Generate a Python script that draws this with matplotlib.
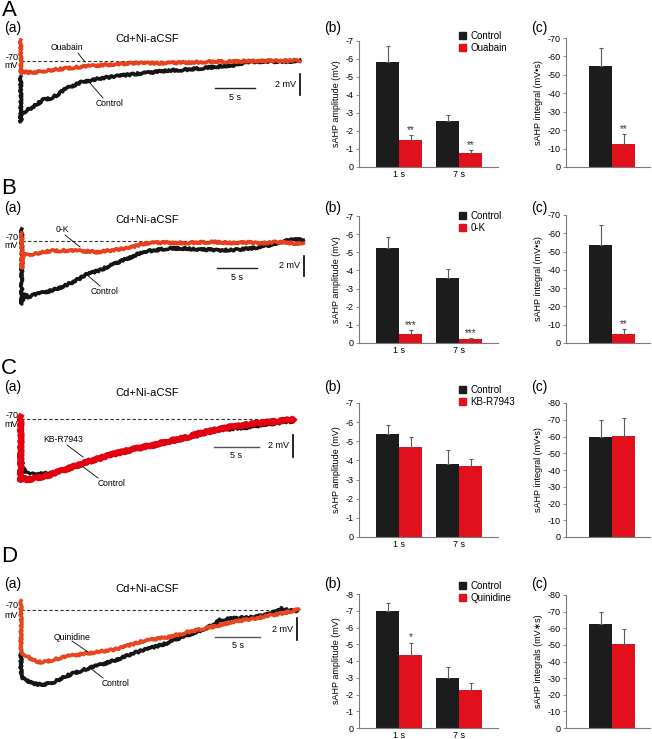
import numpy as np
import matplotlib
matplotlib.use("Agg")
import matplotlib.pyplot as plt
from matplotlib.lines import Line2D
from matplotlib.patches import Patch
from matplotlib.transforms import Affine2D

plt.rcParams['font.family'] = ['Liberation Sans', 'DejaVu Sans']
plt.rcParams['axes.unicode_minus'] = False

# ---- bar data (rows A-D) ----
drugs = ["Ouabain", "0-K", "KB-R7943", "Quinidine"]
time_labels = ["1 s", "7 s"]
amp_ctrl = [[-5.85, -2.55], [-5.25, -3.6], [-5.4, -3.8], [-7.0, -3.0]]
amp_ctrl_err = [[0.85, 0.35], [0.6, 0.5], [0.45, 0.75], [0.45, 0.65]]
amp_drug = [[-1.5, -0.8], [-0.5, -0.2], [-4.7, -3.7], [-4.35, -2.25]]
amp_drug_err = [[0.3, 0.12], [0.22, 0.08], [0.5, 0.4], [0.75, 0.45]]
amp_stars = [["**", "**"], ["***", "***"], ["", ""], ["*", ""]]
amp_ymin = [-7, -7, -7, -8]
int_ctrl = [-55, -53.5, -60, -62.5]
int_ctrl_err = [9.5, 11, 10, 7]
int_drug = [-12.5, -5, -60.5, -50.5]
int_drug_err = [5.5, 2.5, 10.5, 9]
int_stars = ["**", "**", "", ""]
int_ymin = [-70, -70, -80, -80]
int_ylabels = ["sAHP integral (mV\u2022s)", "sAHP integral (mV\u2022s)",
               "sAHP integral (mV\u2022s)", "sAHP integrals (mV\u2217s)"]

# ---- traces (time in s, membrane potential in mV) ----
a_t_ctrl = [0, 0, 0.12, 0.75, 1.6, 2.8, 3.7, 4.5, 5.75, 7.0, 7.8, 9.1, 9.9, 12.0, 14.1,
            16.2, 18.25, 20.3, 22.4, 24.5, 26.6, 28.7, 30.75, 32.8, 34.9]
a_v_ctrl = [-71.5, -75.8, -75.0, -74.7, -74.35, -73.7, -73.55, -73.25, -72.6, -72.2, -71.95,
            -71.8, -71.65, -71.45, -71.25, -71.1, -70.9, -70.85, -70.7, -70.55, -70.4,
            -70.05, -70.05, -70.05, -70.0]
a_t_drug = [0, 0, 0.3, 1.6, 3.0, 4.5, 5.75, 7.5, 9.9, 12.0, 14.1, 16.2, 18.25, 20.3,
            22.4, 24.5, 26.6, 28.7, 30.75, 32.8, 34.9]
a_v_drug = [-68.0, -71.2, -71.05, -71.1, -70.95, -70.8, -70.7, -70.55, -70.4, -70.3, -70.2,
            -70.2, -70.2, -70.15, -70.1, -70.05, -70.05, -70.0, -70.0, -69.95, -69.95]

b_t_ctrl = [0, 0, 0.3, 0.83, 1.46, 2.7, 3.96, 5.63, 6.88, 8.13, 9.8, 11.0, 12.3, 13.96,
            15.2, 16.5, 18.1, 20.2, 22.3, 24.4, 26.5, 28.5, 30.6, 32.7, 34.0, 35.2]
b_v_ctrl = [-68.8, -76.3, -75.3, -75.6, -75.4, -75.15, -74.9, -74.4, -73.9, -73.35, -72.9,
            -72.5, -72.05, -71.5, -71.05, -70.95, -70.75, -70.75, -70.85, -70.9, -70.9,
            -70.75, -70.5, -70.05, -69.85, -69.9]
b_t_drug = [0, 0, 0.2, 1.5, 3.5, 5.5, 7.5, 9.5, 11.5, 13.5, 15.0, 16.0, 18.0, 20.0, 22.0,
            24.0, 26.0, 28.0, 30.0, 32.0, 35.2]
b_v_drug = [-69.2, -72.7, -71.4, -71.3, -71.0, -70.95, -71.0, -71.1, -70.9, -70.7, -70.3,
            -70.2, -70.15, -70.2, -70.15, -70.1, -70.2, -70.15, -70.2, -70.1, -70.3]

c_t_ctrl = [0, 0, 0.11, 0.5, 1.0, 1.8, 3.26, 5.1, 8.8, 12.5, 16.2, 19.9, 21.8, 23.6,
            25.5, 27.3, 30.3]
c_v_ctrl = [-69.75, -75.75, -73.8, -74.9, -75.05, -75.05, -74.95, -74.6, -73.6, -72.8,
            -72.2, -71.5, -71.05, -70.9, -70.75, -70.5, -70.2]
c_t_drug = [0, 0, 0.37, 0.67, 1.41, 3.26, 5.11, 6.96, 8.81, 10.67, 12.52, 14.37, 16.22,
            18.07, 19.93, 21.78, 23.63, 25.48, 27.33, 29.19, 30.3]
c_v_drug = [-69.75, -75.6, -75.45, -75.6, -75.5, -75.14, -74.6, -74.06, -73.6, -73.14,
            -72.77, -72.46, -72.06, -71.75, -71.3, -70.95, -70.68, -70.43, -70.28, -70.12,
            -70.0]

d_t_ctrl = [0, 0, 0.44, 1.37, 2.48, 3.59, 5.07, 6.93, 8.78, 10.63, 12.48, 14.33, 16.19,
            18.04, 19.89, 21.37, 22.1, 23.6, 25.44, 27.3, 28.96, 29.9, 30.8]
d_v_ctrl = [-74.0, -76.2, -76.46, -76.83, -76.92, -76.7, -76.1, -75.54, -75.08, -74.6,
            -74.0, -73.54, -73.08, -72.46, -71.9, -71.38, -70.92, -70.77, -70.68, -70.46,
            -69.85, -70.06, -70.06]
d_t_drug = [0, 0, 0.44, 1.0, 1.74, 2.48, 3.59, 5.07, 6.93, 8.78, 10.63, 12.48, 13.2,
            14.33, 16.19, 18.04, 19.89, 21.74, 23.6, 25.44, 27.3, 29.15, 30.8]
d_v_drug = [-69.14, -74.0, -74.15, -74.46, -74.77, -74.86, -74.6, -74.3, -74.06, -73.85,
            -73.63, -73.14, -72.95, -72.77, -72.52, -72.15, -71.78, -71.48, -71.08, -70.86,
            -70.55, -70.3, -69.94]

traces = [(a_t_ctrl, a_v_ctrl, a_t_drug, a_v_drug),
          (b_t_ctrl, b_v_ctrl, b_t_drug, b_v_drug),
          (c_t_ctrl, c_v_ctrl, c_t_drug, c_v_drug),
          (d_t_ctrl, d_v_ctrl, d_t_drug, d_v_drug)]

W, H = 652, 739
fig = plt.figure(figsize=(W / 100, H / 100), dpi=100)
px = Affine2D().scale(1 / W, -1 / H).translate(0, 1) + fig.transFigure


def rect(x0, y0, x1, y1):
    return [x0 / W, 1 - y1 / H, (x1 - x0) / W, (y1 - y0) / H]


def ftext(x, y, s, **kw):
    kw.setdefault("ha", "center")
    kw.setdefault("va", "center")
    fig.text(x, y, s, transform=px, **kw)


def fline(xs, ys, **kw):
    kw.setdefault("color", "black")
    kw.setdefault("lw", 0.6)
    fig.add_artist(Line2D(xs, ys, transform=px, **kw))


letters = ["A", "B", "C", "D"]
letter_y = [10, 189, 369, 557]
sub_y = [28, 208, 387, 584]
title_y = [39, 220, 393, 589]
# trace calibration: x of t=0, px per s, y of -70 mV, px per mV, drug colour, widths
cal = [(20.7, 8.0, 61, 10.5, "#e8401c", 2.6, 2.6),
       (21.7, 8.0, 241, 10.0, "#e8401c", 2.6, 2.6),
       (20.7, 9.0, 419.3, 10.8, "#e3000f", 2.2, 4.2),
       (21.0, 9.0, 610, 10.8, "#e8461c", 2.6, 2.6)]
hbar = [(215, 255, 88), (217, 257, 268), (214, 259, 446.7), (215, 260, 637)]
vbar = [(300, 74, 95), (304, 256, 276), (292.7, 435, 457), (296.7, 618, 640)]
drug_lab = [((67, 47), (78, 53, 85, 62)), ((62, 230), (65, 235, 80, 247)),
            ((63, 440), (67, 445, 83, 457)), ((72, 637), (72, 641, 88, 652))]
ctrl_lab = [((110, 103), (90, 83, 103, 98)), ((105, 291), (86, 274, 100, 286)),
            ((112, 484), (82, 466, 98, 478)), ((116, 683), (90, 668, 103, 678))]
amp_rect = [(359, 41, 498, 167), (359, 216, 498, 343), (359, 403, 498, 537), (359, 594, 498, 728)]
int_rect = [(566, 38, 650, 167), (566, 215, 650, 343), (566, 403, 650, 537), (566, 595, 650, 728)]
leg_top = [31, 211, 385, 581]

black = "#1c1c1c"
red_bar = "#e2101c"
err_col = "#5a5a5a"
spine_col = "#7a7a7a"

for r in range(4):
    t0, sx, y70, sy, dcol, lwc, lwd = cal[r]
    tc, vc, td, vd = traces[r]
    # trace axes
    x0, x1 = 8, 325
    y0, y1 = y70 - 30, y70 + 80
    ax = fig.add_axes(rect(x0, y0, x1, y1))
    ax.set_xlim((x0 - t0) / sx, (x1 - t0) / sx)
    ax.set_ylim(-70 - (y1 - y70) / sy, -70 - (y0 - y70) / sy)
    ax.axis("off")
    tend = max(max(tc), max(td))
    ax.hlines(-70, 0, tend, colors="#333333", lw=0.8, linestyles=(0, (3, 2)), zorder=1)
    lc, = ax.plot(tc, vc, color="#151515", lw=lwc, solid_joinstyle="round", zorder=2)
    ld, = ax.plot(td, vd, color=dcol, lw=lwd, solid_joinstyle="round", zorder=3)
    lc.set_sketch_params(1.0, 3.0, 4.0)
    ld.set_sketch_params(1.0, 3.0, 4.0)

    ftext(9, letter_y[r], letters[r], fontsize=16)
    ftext(13, sub_y[r], "(a)", fontsize=10)
    ftext(147, title_y[r], "Cd+Ni-aCSF", fontsize=8)
    ftext(12, y70 - 4, "-70", fontsize=6.5)
    ftext(11, y70 + 5, "mV", fontsize=6.5)

    hx0, hx1, hy = hbar[r]
    fline([hx0, hx1], [hy, hy], lw=1.0, color="#222222" if r < 2 else "#555555")
    ftext((hx0 + hx1) / 2, hy + 9, "5 s", fontsize=6.5)
    vx, vy0, vy1 = vbar[r]
    fline([vx, vx], [vy0, vy1], lw=1.2)
    ftext(vx - 4, (vy0 + vy1) / 2, "2 mV", fontsize=6.5, ha="right")

    (tx, ty), (lx0, ly0, lx1, ly1) = drug_lab[r]
    ftext(tx, ty, drugs[r], fontsize=6.2)
    fline([lx0, lx1], [ly0, ly1])
    (tx, ty), (lx0, ly0, lx1, ly1) = ctrl_lab[r]
    ftext(tx, ty, "Control", fontsize=6.2)
    fline([lx0, lx1], [ly0, ly1])

    # amplitude bars
    ftext(333, sub_y[r], "(b)", fontsize=10)
    ax = fig.add_axes(rect(*amp_rect[r]))
    pos = np.arange(len(time_labels))
    w = 23 / 60
    ax.bar(pos - w / 2, amp_ctrl[r], w, color=black, zorder=2)
    ax.bar(pos + w / 2, amp_drug[r], w, color=red_bar, zorder=2)
    ax.errorbar(pos - w / 2, amp_ctrl[r], yerr=[amp_ctrl_err[r], [0, 0]], fmt="none",
                ecolor=err_col, elinewidth=0.8, capsize=1.5, capthick=0.8, zorder=3)
    ax.errorbar(pos + w / 2, amp_drug[r], yerr=[amp_drug_err[r], [0, 0]], fmt="none",
                ecolor=err_col, elinewidth=0.8, capsize=1.5, capthick=0.8, zorder=3)
    for i in range(2):
        if amp_stars[r][i]:
            ax.text(pos[i] + w / 2, amp_drug[r][i] - amp_drug_err[r][i], amp_stars[r][i],
                    ha="center", va="bottom", fontsize=7, color="#333333")
    ax.set_xlim((359 - 399) / 60, (498 - 399) / 60)
    ax.set_ylim(0, amp_ymin[r])
    ax.set_yticks(np.arange(0, amp_ymin[r] - 1, -1))
    ax.set_xticks(pos)
    ax.set_xticklabels(time_labels)
    ax.set_ylabel("sAHP amplitude (mV)", fontsize=6.5, labelpad=3)
    for side in ["top", "right"]:
        ax.spines[side].set_visible(False)
    for side in ["left", "bottom"]:
        ax.spines[side].set_color(spine_col)
        ax.spines[side].set_linewidth(0.8)
    ax.tick_params(axis="y", length=2, width=0.6, color=spine_col, labelsize=6.5, pad=2)
    ax.tick_params(axis="x", length=0, labelsize=6.5, pad=2)
    handles = [Patch(color=black, label="Control"), Patch(color=red_bar, label=drugs[r])]
    ax.legend(handles=handles, loc="upper left", bbox_to_anchor=(459 / W, 1 - leg_top[r] / H),
              bbox_transform=fig.transFigure, frameon=False, fontsize=7, handlelength=0.7,
              handleheight=0.7, handletextpad=0.5, labelspacing=0.2, borderpad=0,
              borderaxespad=0)

    # integral bars
    ftext(539, sub_y[r], "(c)", fontsize=10)
    ax = fig.add_axes(rect(*int_rect[r]))
    w = 0.4
    ax.bar([-w / 2], [int_ctrl[r]], w, color=black, zorder=2)
    ax.bar([w / 2], [int_drug[r]], w, color=red_bar, zorder=2)
    ax.errorbar([-w / 2], [int_ctrl[r]], yerr=[[int_ctrl_err[r]], [0]], fmt="none",
                ecolor=err_col, elinewidth=0.8, capsize=1.5, capthick=0.8, zorder=3)
    ax.errorbar([w / 2], [int_drug[r]], yerr=[[int_drug_err[r]], [0]], fmt="none",
                ecolor=err_col, elinewidth=0.8, capsize=1.5, capthick=0.8, zorder=3)
    if int_stars[r]:
        ax.text(w / 2, int_drug[r] - int_drug_err[r], int_stars[r], ha="center", va="bottom",
                fontsize=7, color="#333333")
    sc = 23 / w
    ax.set_xlim((566 - 612) / sc, (650 - 612) / sc)
    ax.set_ylim(0, int_ymin[r])
    ax.set_yticks(np.arange(0, int_ymin[r] - 1, -10))
    ax.set_xticks([])
    ax.set_ylabel(int_ylabels[r], fontsize=6.5, labelpad=3)
    for side in ["top", "right"]:
        ax.spines[side].set_visible(False)
    for side in ["left", "bottom"]:
        ax.spines[side].set_color(spine_col)
        ax.spines[side].set_linewidth(0.8)
    ax.tick_params(axis="y", length=2, width=0.6, color=spine_col, labelsize=6.5, pad=2)

fig.savefig("out.png", dpi=100)
